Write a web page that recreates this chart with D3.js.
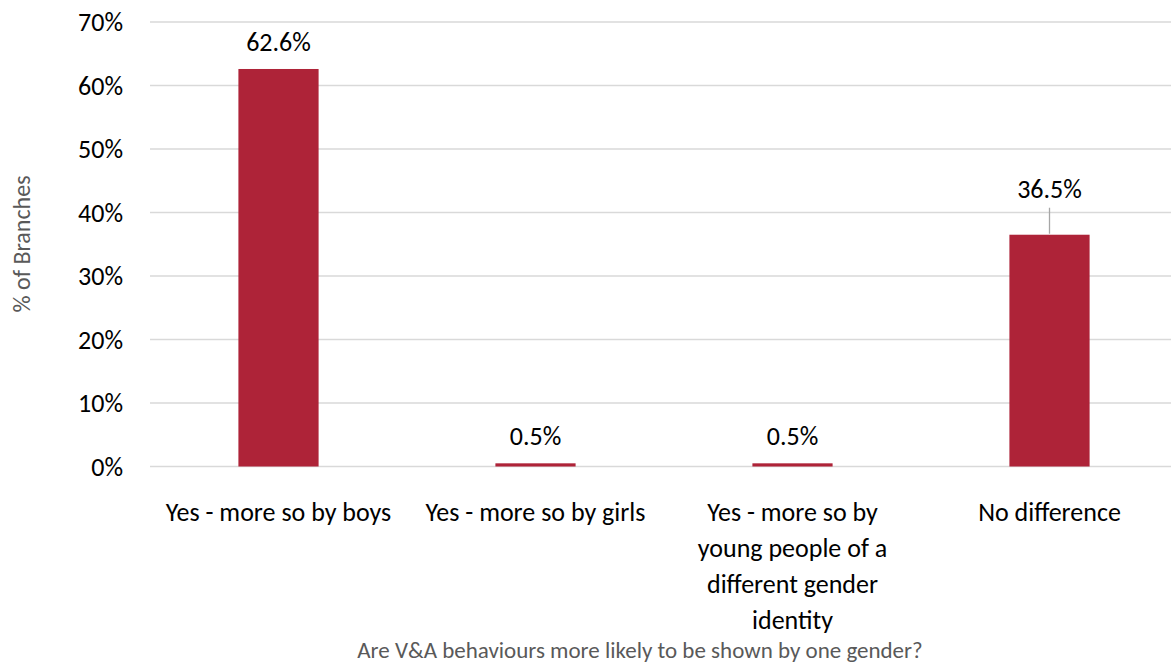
<!DOCTYPE html>
<html lang="en">
<head>
<meta charset="utf-8" />
<title>V&amp;A behaviours by gender</title>
<script src="https://cdn.jsdelivr.net/npm/d3@7"></script>
<style>
  body { margin: 0; background: #fff; }
  svg text { font-family: Carlito, Calibri, Lato, sans-serif; }
</style>
</head>
<body>
<svg width="1171" height="663"></svg>
<script>
// data
var categories = ['boys', 'girls', 'other', 'none'];
var categoryLines = [
    ['Yes - more so by boys'],
    ['Yes - more so by girls'],
    ['Yes - more so by', 'young people of a', 'different gender', 'identity'],
    ['No difference']
];
var values = [0.626, 0.005, 0.005, 0.365];
var yTicks = [0, 0.1, 0.2, 0.3, 0.4, 0.5, 0.6, 0.7];

var svg = d3.select('svg');
var barColor = '#ae2338';
var fontSize = 26;

var x = d3.scaleBand().domain(categories).range([150, 1178]).padding(0);
var y = d3.scaleLinear().domain([0, 0.7]).range([466.5, 22]);
var barW = x.bandwidth() * 0.312;
var pct = d3.format('.0%');

// gridlines
svg.append('g').selectAll('line')
    .data(yTicks)
    .enter().append('line')
    .attr('x1', 150).attr('x2', 1178)
    .attr('y1', function(d) { return y(d); })
    .attr('y2', function(d) { return y(d); })
    .attr('stroke', '#d9d9d9')
    .attr('stroke-width', 1.3);

// y tick labels
svg.append('g').selectAll('text')
    .data(yTicks)
    .enter().append('text')
    .attr('x', 123)
    .attr('y', function(d) { return y(d); })
    .attr('dy', '0.35em')
    .attr('text-anchor', 'end')
    .attr('font-size', fontSize)
    .attr('fill', '#000')
    .text(pct);

// bars
svg.append('g').selectAll('rect')
    .data(values)
    .enter().append('rect')
    .attr('x', function(d, i) { return x(categories[i]) + x.bandwidth() / 2 - barW / 2; })
    .attr('width', barW)
    .attr('y', function(d) { return y(d); })
    .attr('height', function(d) { return y(0) - y(d); })
    .attr('fill', barColor);

// value labels (the last one is lifted with a leader line)
var lifted = 3, lift = 19;
var labels = svg.append('g');
values.forEach(function(v, i) {
    var cx = x(categories[i]) + x.bandwidth() / 2;
    var off = 27 + (i === lifted ? lift : 0);
    labels.append('text')
        .attr('x', cx)
        .attr('y', y(v) - off)
        .attr('dy', '0.35em')
        .attr('text-anchor', 'middle')
        .attr('font-size', fontSize)
        .attr('fill', '#000')
        .text(d3.format('.1%')(v));
    if (i === lifted) {
        labels.append('line')
            .attr('x1', cx).attr('x2', cx)
            .attr('y1', y(v) - off + 19)
            .attr('y2', y(v) - 1)
            .attr('stroke', '#a6a6a6')
            .attr('stroke-width', 1.3);
    }
});

// category labels
var cats = svg.append('g');
categoryLines.forEach(function(lines, i) {
    var cx = x(categories[i]) + x.bandwidth() / 2;
    var t = cats.append('text')
        .attr('y', 512)
        .attr('text-anchor', 'middle')
        .attr('font-size', fontSize)
        .attr('fill', '#000');
    lines.forEach(function(line, j) {
        t.append('tspan')
            .attr('x', cx)
            .attr('dy', j === 0 ? '0.35em' : 36)
            .text(line);
    });
});

// axis titles
svg.append('text')
    .attr('x', 640)
    .attr('y', 650)
    .attr('dy', '0.35em')
    .attr('text-anchor', 'middle')
    .attr('font-size', 23)
    .attr('fill', '#595959')
    .text('Are V&A behaviours more likely to be shown by one gender?');

svg.append('text')
    .attr('transform', 'translate(22,244) rotate(-90)')
    .attr('dy', '0.35em')
    .attr('text-anchor', 'middle')
    .attr('font-size', 24)
    .attr('fill', '#595959')
    .text('% of Branches');
</script>
</body>
</html>
